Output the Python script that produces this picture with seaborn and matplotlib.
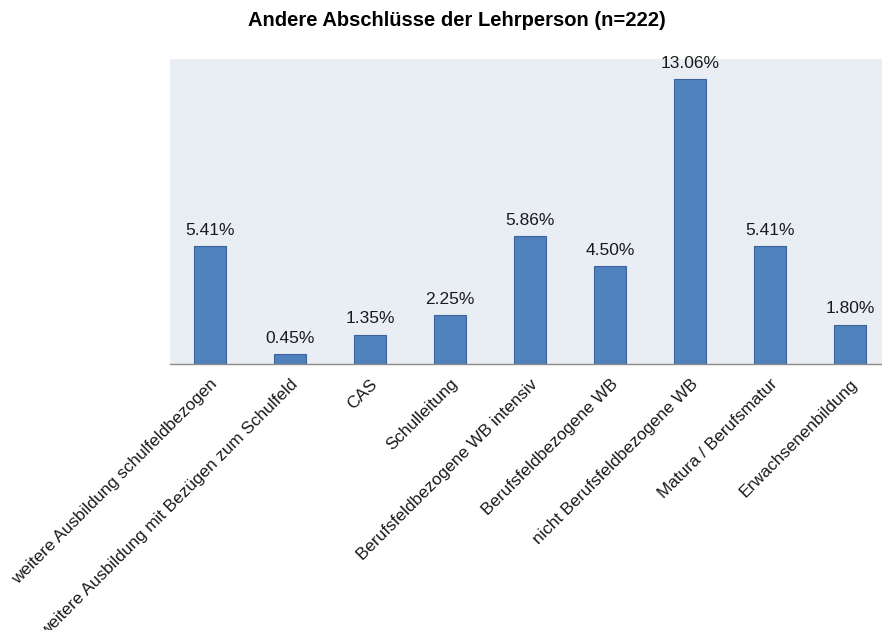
import matplotlib
matplotlib.use("Agg")
import matplotlib.pyplot as plt
import seaborn as sns
import pandas as pd

categories = [
    "weitere Ausbildung schulfeldbezogen",
    "weitere Ausbildung mit Bezügen zum Schulfeld",
    "CAS",
    "Schulleitung",
    "Berufsfeldbezogene WB intensiv",
    "Berufsfeldbezogene WB",
    "nicht Berufsfeldbezogene WB",
    "Matura / Berufsmatur",
    "Erwachsenenbildung",
]
values = [5.41, 0.45, 1.35, 2.25, 5.86, 4.50, 13.06, 5.41, 1.80]
title = "Andere Abschlüsse der Lehrperson (n=222)"

sns.set_theme(style="white")
plt.rcParams["font.family"] = ["Liberation Sans", "DejaVu Sans"]

df = pd.DataFrame({"cat": categories, "val": values})

fig = plt.figure(figsize=(8.82, 6.3), dpi=100)
ax = fig.add_axes([170 / 882, 1 - 364 / 630, 720 / 882, 305 / 630])
ax.set_facecolor("#E9EDF4")

sns.barplot(data=df, x="cat", y="val", ax=ax, color="#4F81BD",
            edgecolor="#3A649A", linewidth=0.8, width=0.41, saturation=1)

ax.set_ylim(0, 14)
ax.set_xlim(-0.5, len(categories) - 0.5)
ax.set_yticks([])
ax.set_xlabel("")
ax.set_ylabel("")
for s in ["top", "right", "left"]:
    ax.spines[s].set_visible(False)
ax.spines["bottom"].set_color("#8C8C8C")
ax.spines["bottom"].set_linewidth(1.0)

for i, v in enumerate(values):
    ax.annotate(f"{v:.2f}%", (i, v), xytext=(0, 6), textcoords="offset points",
                ha="center", va="bottom", fontsize=12.5, color="#1a1a1a")

ax.tick_params(axis="x", length=0, pad=9)
ax.set_xticks(range(len(categories)))
ax.set_xticklabels(categories, rotation=45, ha="right", rotation_mode="anchor",
                   fontsize=12.3, color="#1a1a1a")

fig.suptitle(title, x=457 / 882, y=0.982, fontsize=14.5, fontweight="bold", color="black")

fig.savefig("out.png", dpi=100, facecolor="white")
